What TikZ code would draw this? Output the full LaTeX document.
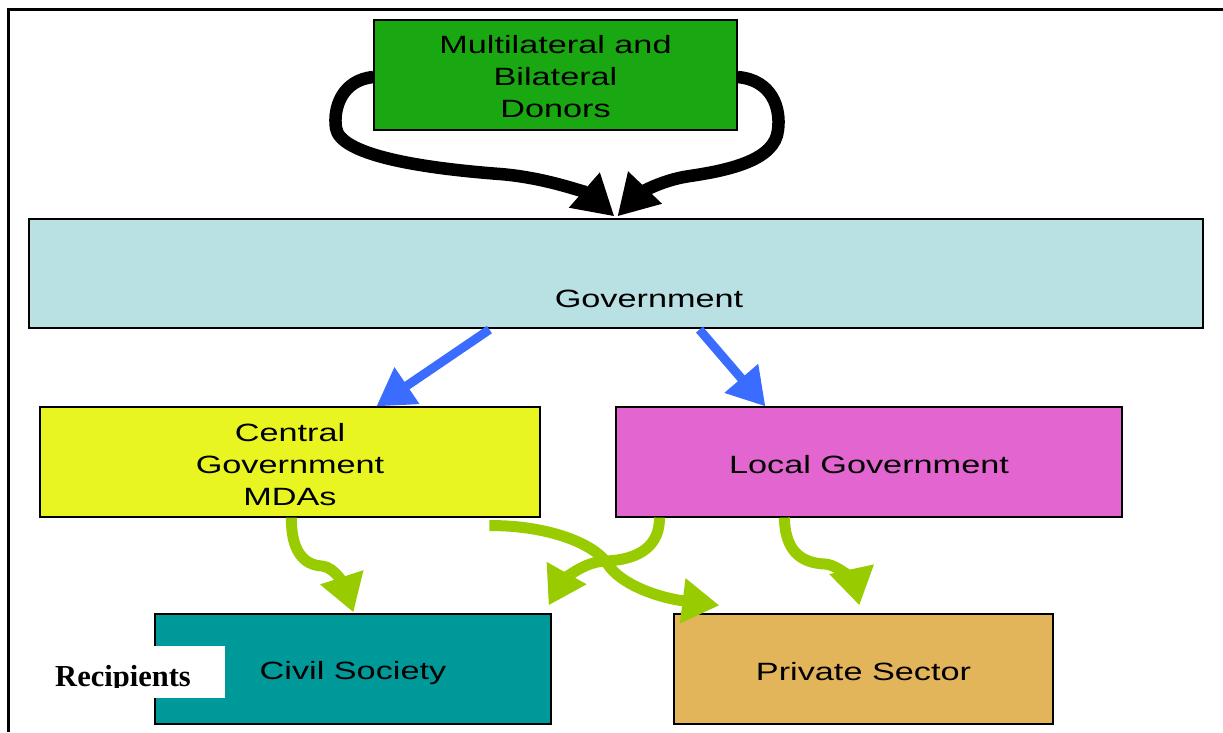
\documentclass[tikz,border=0pt]{standalone}
\usepackage{fontspec}
\newfontfamily\af{Liberation Sans}[FakeStretch=1.37]
\newfontfamily\tf{Liberation Serif}
\usetikzlibrary{arrows.meta,calc}
\definecolor{cdon}{RGB}{26,168,18}
\definecolor{cgov}{RGB}{185,224,227}
\definecolor{ccg}{RGB}{232,245,33}
\definecolor{clg}{RGB}{227,102,208}
\definecolor{cciv}{RGB}{0,153,153}
\definecolor{cprv}{RGB}{227,181,90}
\definecolor{cblue}{RGB}{58,108,255}
\definecolor{cgreen}{RGB}{153,204,0}
\begin{document}
\begin{tikzpicture}[x=1pt,y=-1pt,
  box/.style={draw=black,line width=1.2pt,inner sep=0pt},
  txt/.style={inner sep=0pt,align=center,font=\af\fontsize{25}{32}\selectfont},
  blk/.style={draw=black,line width=12.5pt,-{Triangle[length=40pt,width=44pt]}},
  blu/.style={draw=cblue,line width=9pt,-{Triangle[length=37pt,width=42pt]}},
  grn/.style={draw=cgreen,line width=11pt,-{Triangle[length=37pt,width=43pt]}}]
\useasboundingbox (0,0) rectangle (1223,732);
% frame
\draw[line width=3pt] (8,732) -- (8,9.5) -- (1223,9.5);
% boxes
\node[box,fill=cdon,minimum width=363pt,minimum height=110pt,
  label={[txt,yshift=-2pt]center:{Multilateral and\\Bilateral\\ Donors}}] (don) at (555.5,75) {};
\node[box,fill=cgov,minimum width=1174pt,minimum height=109pt] (gov) at (616,273.5) {};
\node[txt] (govt) at (649,299) {Government};
\node[box,fill=ccg,minimum width=500pt,minimum height=110pt,
  label={[txt,yshift=-3pt]center:{Central\\Government\\MDAs}}] (cg) at (290,462) {};
\node[box,fill=clg,minimum width=506pt,minimum height=110pt,
  label={[txt,yshift=-3pt]center:{Local Government}}] (lg) at (869,462) {};
\node[box,fill=cciv,minimum width=396pt,minimum height=110pt,
  label={[txt,yshift=-4pt]center:{Civil Society}}] (civ) at (353,669) {};
\node[box,fill=cprv,minimum width=379pt,minimum height=110pt,
  label={[txt,yshift=-3pt]center:{Private Sector}}] (prv) at (863.5,669) {};
% recipients label
\fill[white] (40,646) rectangle (225,698);
\begin{scope}
\clip (40,646) rectangle (225,687.5);
\node[inner sep=0pt,anchor=base,font=\tf\bfseries\fontsize{30.5}{30}\selectfont] (rec) at (123,686) {Recipients};
\end{scope}
% black arrows
\coordinate (bt1) at ($(gov.north west)+(586,-2)$);
\coordinate (bt2) at ($(gov.north west)+(589,-2)$);
\draw[blk] ($(don.west)+(0,2)$) .. controls (342,80) and (333,108) .. (336,128)
  .. controls (340,155) and (420,168) .. (500,174)
  .. controls (550,178) and (590,195) .. (bt1);
\draw[blk] ($(don.east)+(0,2)$) .. controls (772,80) and (781,108) .. (778,130)
  .. controls (775,160) and (730,170) .. (690,176)
  .. controls (655,181) and (635,198) .. (bt2);
% blue arrows
\draw[blu] ($(gov.south west)+(461,1)$) -- ($(cg.north west)+(337,0)$);
\draw[blu] ($(gov.south west)+(671,1)$) -- ($(lg.north west)+(150,0)$);
% green arrows
\draw[grn] ($(cg.south west)+(252,0)$) .. controls (291,550) and (303,565) .. (322,566)
  .. controls (336,567) and (346,590) .. ($(civ.north west)+(199,-1)$);
\draw[grn] ($(lg.south west)+(44,0)$) .. controls (660,545) and (640,560) .. (605,561)
  .. controls (580,562) and (560,585) .. ($(civ.north east)+(-3,-8)$);
\draw[grn] ($(cg.south west)+(450,8)$) .. controls (540,525) and (590,540) .. (607,563)
  .. controls (620,585) and (660,598) .. ($(prv.north west)+(46,-8)$);
\draw[grn] ($(lg.south west)+(169,0)$) .. controls (785,550) and (800,563) .. (825,564)
  .. controls (840,565) and (855,585) .. ($(prv.north west)+(186,-8)$);
\end{tikzpicture}
\end{document}
